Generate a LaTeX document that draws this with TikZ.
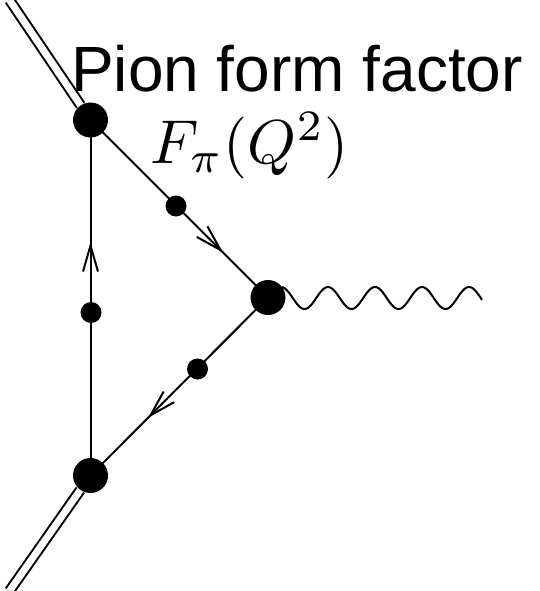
\documentclass[tikz,border=0pt]{standalone}
\usepackage{fontspec}
\newfontfamily\titlefont{Liberation Sans}
\usetikzlibrary{arrows.meta,decorations.markings}
\tikzset{
  bigdot/.style={circle,fill=black,inner sep=0pt,minimum size=35pt},
  smalldot/.style={circle,fill=black,inner sep=0pt,minimum size=21pt},
  prop/.style={line width=2pt},
  pionline/.style={line width=2pt,double=white,double distance=7pt},
  wave/.style={line width=2pt},
  midarrow/.style={postaction={decorate},decoration={markings,
    mark=at position #1 with {\arrow[line width=2pt]{Straight Barb[length=26pt,width=15pt]}}}}
}
\begin{document}
\begin{tikzpicture}[x=1pt,y=-1pt]
\useasboundingbox (0,0) rectangle (540,591);
% vertices
\node[bigdot] (A) at (90.5,120) {};
\node[bigdot] (B) at (268,297.5) {};
\node[bigdot] (C) at (90.5,475.5) {};
% small dots
\node[smalldot] (dAB) at (176,206) {};
\node[smalldot] (dCA) at (91,312.5) {};
\node[smalldot] (dBC) at (197.5,369) {};
% external ends
\coordinate (Pin) at (9.5,0);
\coordinate (Pout) at (9.5,591);
% propagators
\draw[prop,midarrow=0.747] (A.center) -- (B.center);
\draw[prop,midarrow=0.676] (B.center) -- (C.center);
\draw[prop,midarrow=0.657] (C.center) -- (A.center);
% pion lines
\draw[pionline] (Pin) -- (A);
\draw[pionline] (C) -- (Pout);
% photon
\draw[wave] plot[domain=282:482,samples=200,smooth] (\x,{298-11*cos((\x-328)/47*360)});
% labels
\node[anchor=base west,inner sep=0pt] (title) at (71,91.5)
  {\titlefont\fontsize{64}{70}\selectfont Pion form factor};
\node[anchor=base west,inner sep=0pt,scale=6.2] (ff) at (149,163)
  {$F_\pi(Q^2)$};
\end{tikzpicture}
\end{document}
